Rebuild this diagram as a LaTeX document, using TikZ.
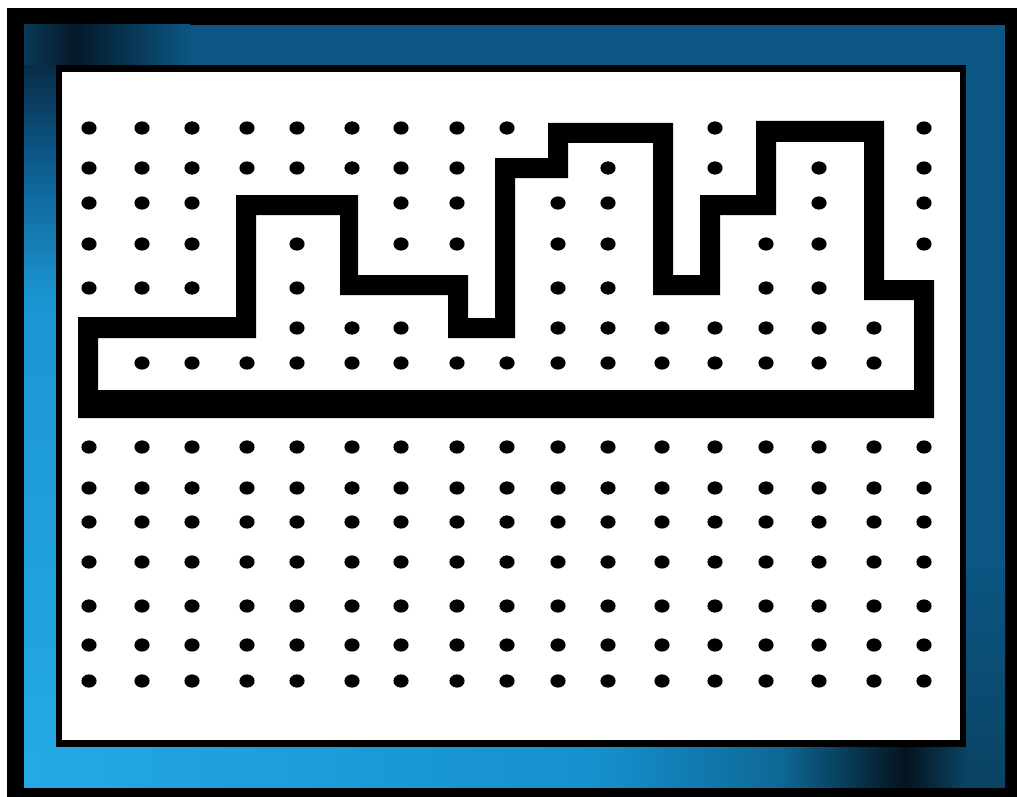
\documentclass[tikz,border=0pt]{standalone}
\usetikzlibrary{shadings}
\definecolor{frameBase}{HTML}{0B5683}
\definecolor{frameDark}{HTML}{05192A}
\definecolor{frameDeep}{HTML}{04141F}
\definecolor{frameMid}{HTML}{0D5F92}
\definecolor{frameBright}{HTML}{1B96D2}
\definecolor{frameLight}{HTML}{25A9E5}
\definecolor{frameCyan}{HTML}{1590CC}
\definecolor{frameShade}{HTML}{0E6896}
\definecolor{frameEnd}{HTML}{0A4364}
\definecolor{frameTopL}{HTML}{0A3A58}
\tikzset{
  pegdot/.style={fill=black, draw=none},
  skyline/.style={fill=black, even odd rule, draw=none}
}
\begin{document}
\begin{tikzpicture}[x=1pt, y=-1pt]
\useasboundingbox (0,0) rectangle (1017,797);
% page background
\fill[white] (0,0) rectangle (1017,797);
% outer black frame
\fill[black] (7,8) rectangle (1017,797);
% blue frame: base colour
\fill[frameBase] (24,25) rectangle (1005,787);
% right band: a little darker towards the bottom
\shade[top color=frameBase, bottom color=frameEnd] (966,560) rectangle (1005,787);
% left band: dark at top, bright further down
\shade[top color=frameDark, bottom color=frameMid] (24,25) rectangle (56,170);
\shade[top color=frameMid, bottom color=frameBright] (24,170) rectangle (56,300);
\shade[top color=frameBright, bottom color=frameLight] (24,300) rectangle (56,787);
% bottom band: bright at left, dark near the right corner
\shade[left color=frameLight, right color=frameCyan] (24,747) rectangle (600,787);
\shade[left color=frameCyan, right color=frameShade] (600,747) rectangle (780,787);
\shade[left color=frameShade, right color=frameDeep] (780,747) rectangle (905,787);
\shade[left color=frameDeep, right color=frameEnd] (905,747) rectangle (966,787);
% top band: dark patch at the left
\shade[left color=frameTopL, right color=frameDark] (24,25) rectangle (75,65);
\shade[left color=frameDark, right color=frameBase] (75,25) rectangle (190,65);
% inner black line and white panel
\fill[black] (56,65) rectangle (966,747);
\fill[white] (62,72) rectangle (960,740);
% skyline outline
\fill[skyline]
  (78,418) -- (78,317) -- (236,317) -- (236,195) -- (358,195) -- (358,275)
  -- (468,275) -- (468,318) -- (495,318) -- (495,158) -- (548,158) -- (548,123)
  -- (673,123) -- (673,275) -- (700,275) -- (700,195) -- (756,195) -- (756,121)
  -- (884,121) -- (884,280) -- (934,280) -- (934,418) -- cycle
  (98,390) -- (98,338) -- (256,338) -- (256,215) -- (340,215) -- (340,295)
  -- (448,295) -- (448,338) -- (515,338) -- (515,178) -- (568,178) -- (568,143)
  -- (653,143) -- (653,295) -- (720,295) -- (720,215) -- (776,215) -- (776,142)
  -- (864,142) -- (864,300) -- (914,300) -- (914,390) -- cycle;
% dots
\def\colx{{89,142,192,247,297,352,401,457,507,558,608,662,715,766,819,874,924}}
\foreach \yy/\cols in {
  128/{0,1,2,3,4,5,6,7,8,12,16},
  168/{0,1,2,3,4,5,6,7,10,12,14,16},
  203/{0,1,2,6,7,9,10,14,16},
  244/{0,1,2,4,6,7,9,10,13,14,16},
  288/{0,1,2,4,9,10,13,14},
  328/{4,5,6,9,10,11,12,13,14,15},
  363/{1,2,3,4,5,6,7,8,9,10,11,12,13,14,15},
  447/{0,1,2,3,4,5,6,7,8,9,10,11,12,13,14,15,16},
  488/{0,1,2,3,4,5,6,7,8,9,10,11,12,13,14,15,16},
  522/{0,1,2,3,4,5,6,7,8,9,10,11,12,13,14,15,16},
  562/{0,1,2,3,4,5,6,7,8,9,10,11,12,13,14,15,16},
  606/{0,1,2,3,4,5,6,7,8,9,10,11,12,13,14,15,16},
  645/{0,1,2,3,4,5,6,7,8,9,10,11,12,13,14,15,16},
  681/{0,1,2,3,4,5,6,7,8,9,10,11,12,13,14,15,16}}{
  \foreach \c in \cols {
    \pgfmathsetmacro\xx{\colx[\c]}
    \fill[pegdot] (\xx,\yy) ellipse (7.6pt and 6.6pt);
  }
}
\end{tikzpicture}
\end{document}
